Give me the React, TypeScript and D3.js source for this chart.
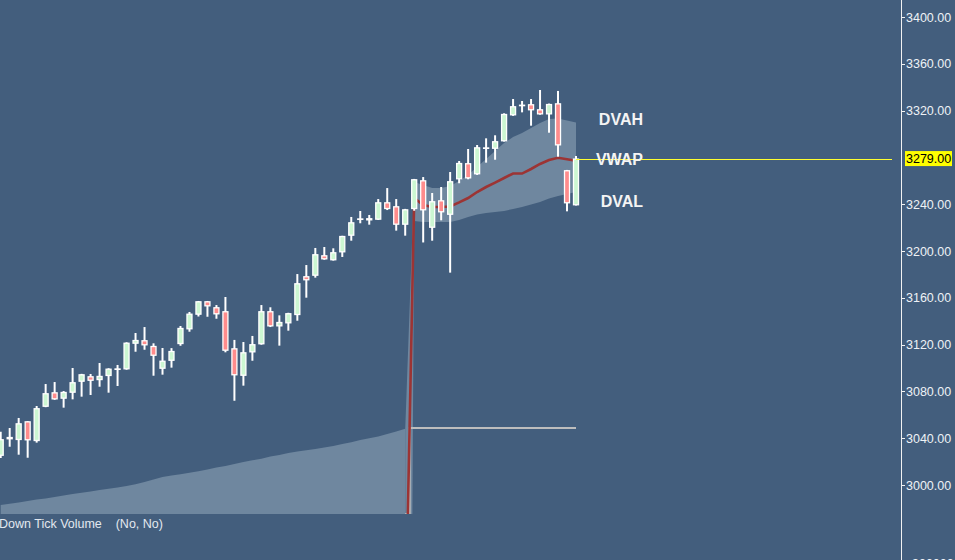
import React, { useEffect, useRef } from "react";
import * as d3 from "d3";

const W = 955;
const H = 560;

const BG = "#435e7d";
const SHADE = "#6f879f";
const UP = "#ccf7d2";
const DOWN = "#ff8c8c";
const FONT = "'Liberation Sans', Arial, sans-serif";

// candles, oldest first
const opens = [
  3025.0, 3041.0, 3038.5, 3054.4, 3037.6, 3066.9, 3079.2, 3073.8, 3078.9, 3088.3,
  3092.9, 3089.7, 3093.2, 3099.4, 3098.9, 3120.8, 3123.7, 3118.8, 3099.4, 3106.2,
  3120.5, 3133.1, 3145.6, 3157.0, 3151.9, 3148.5, 3116.8, 3093.4, 3113.4, 3120.3,
  3148.5, 3135.6, 3138.2, 3145.3, 3178.4, 3178.9, 3196.3, 3192.1, 3198.9, 3213.1,
  3227.6, 3228.0, 3226.8, 3241.6, 3238.2, 3222.5, 3235.9, 3260.4, 3219.9, 3243.3,
  3231.0, 3261.3, 3275.0, 3265.6, 3288.3, 3287.4, 3293.8, 3316.0, 3324.8, 3325.4,
  3321.1, 3316.8, 3326.2, 3269.0, 3239.1,
];
const highs = [
  3045.6, 3048.7, 3057.3, 3054.6, 3067.5, 3086.3, 3088.0, 3080.3, 3100.0, 3095.0,
  3094.9, 3104.3, 3099.8, 3102.6, 3122.0, 3129.9, 3135.0, 3121.1, 3117.1, 3117.0,
  3135.9, 3147.9, 3157.3, 3157.3, 3153.8, 3160.7, 3124.0, 3122.2, 3127.4, 3153.8,
  3151.9, 3145.0, 3147.2, 3180.3, 3188.0, 3202.6, 3203.4, 3202.3, 3213.0, 3229.1,
  3234.2, 3230.8, 3244.4, 3253.8, 3244.4, 3236.0, 3261.6, 3263.2, 3249.6, 3254.7,
  3267.5, 3276.9, 3287.2, 3290.6, 3296.3, 3298.9, 3317.7, 3329.9, 3328.2, 3329.9,
  3337.6, 3326.0, 3336.8, 3269.3, 3281.2,
];
const lows = [
  3023.1, 3032.7, 3025.9, 3023.3, 3036.2, 3066.5, 3072.8, 3066.1, 3073.2, 3075.5,
  3076.9, 3084.0, 3078.9, 3084.6, 3098.5, 3113.9, 3115.6, 3093.4, 3094.3, 3100.3,
  3119.0, 3131.0, 3144.0, 3143.8, 3142.1, 3113.4, 3072.0, 3084.9, 3106.2, 3119.9,
  3135.0, 3119.1, 3131.9, 3140.4, 3160.1, 3177.2, 3192.5, 3191.8, 3194.9, 3208.8,
  3223.7, 3222.5, 3226.5, 3235.0, 3217.4, 3213.1, 3234.4, 3207.3, 3208.8, 3226.2,
  3181.5, 3257.9, 3261.3, 3265.0, 3275.5, 3278.0, 3293.5, 3315.5, 3318.5, 3307.1,
  3316.5, 3301.1, 3280.6, 3233.9, 3238.8,
];
const closes = [
  3039.1, 3039.1, 3052.7, 3038.2, 3065.6, 3078.4, 3073.2, 3079.5, 3087.8, 3094.6,
  3089.1, 3093.2, 3099.4, 3099.6, 3121.6, 3123.9, 3119.4, 3110.5, 3106.2, 3114.5,
  3134.2, 3146.4, 3157.0, 3152.7, 3145.9, 3114.8, 3093.8, 3113.4, 3120.3, 3148.5,
  3135.6, 3139.3, 3146.8, 3172.4, 3175.0, 3197.2, 3192.9, 3198.9, 3212.8, 3224.5,
  3227.8, 3226.2, 3241.6, 3235.9, 3222.5, 3235.6, 3261.3, 3234.8, 3242.5, 3233.1,
  3259.6, 3275.2, 3262.1, 3288.6, 3288.5, 3293.8, 3317.1, 3323.7, 3325.0, 3320.3,
  3316.8, 3325.6, 3290.3, 3240.8, 3279.0,
];

// session VWAP and value-area bands, from bar 45 on
const sessionStart = 45;
const vwap = [
  2862, 3245.3, 3239.3, 3237.6, 3237.6, 3238.0, 3241.5, 3245.3, 3250.4, 3254.7,
  3258.5, 3262.4, 3266.2, 3266.2, 3270.1, 3274.4, 3277.8, 3279.7, 3278.4, 3277.2,
];
const dvah = [
  3047, 3259.0, 3256.4, 3253.8, 3253.8, 3255.6, 3259.8, 3265.0, 3271.8, 3278.6,
  3285.5, 3292.3, 3297.4, 3300.9, 3305.1, 3309.4, 3312.8, 3313.2, 3311.5, 3309.8,
];
const dval = [
  2000, 3225.6, 3224.8, 3224.8, 3224.8, 3224.8, 3226.5, 3229.1, 3231.2, 3232.5,
  3233.3, 3234.2, 3235.9, 3237.6, 3239.7, 3241.9, 3244.9, 3247.0, 3248.7, 3250.4,
];

// cumulative down tick volume (thousands)
const volPrev = [
  90, 103, 116, 130, 144, 156, 170, 185, 200, 213, 225, 240, 253, 266, 280, 297,
  320, 344, 370, 384, 398, 412, 428, 445, 464, 480, 500, 520, 537, 553, 574, 590,
  610, 626, 638, 650, 664, 680, 700, 717, 740, 757, 774, 800, 825, 852,
];
const volCur = [
  0, 860, 860, 860, 860, 860, 860, 860, 860, 860, 860, 860, 860, 860, 860, 860,
  860, 860, 860, 860,
];

const priceTicks = [3000, 3040, 3080, 3120, 3160, 3200, 3240, 3280, 3320, 3360, 3400];

const App: React.FC = () => {
  const svgRef = useRef<SVGSVGElement>(null);

  useEffect(() => {
    if (!svgRef.current) return;
    document.body.style.margin = "0";
    const svg = d3.select(svgRef.current);
    svg.selectAll("*").remove();

    const plotRight = 895;
    const plotBottom = 514;
    const axisX = 901;
    const bodyW = 5;

    const x = d3.scaleLinear().domain([0, opens.length - 1]).range([0.7, 576]);
    const y = d3.scaleLinear().domain([3000, 3400]).range([485, 17]);
    const yVol = d3.scaleLinear().domain([0, 1000]).range([plotBottom, 414]);

    svg.append("rect").attr("width", W).attr("height", H).attr("fill", BG);

    svg
      .append("defs")
      .append("clipPath")
      .attr("id", "plotClip")
      .append("rect")
      .attr("x", 0)
      .attr("y", 0)
      .attr("width", plotRight)
      .attr("height", plotBottom);

    const plot = svg.append("g").attr("clip-path", "url(#plotClip)");

    // volume area (previous session)
    const volArea = d3
      .area<number>()
      .x((_, i) => x(i))
      .y0(yVol(0))
      .y1((d) => yVol(d));
    plot.append("path").datum(volPrev).attr("d", volArea).attr("fill", SHADE);

    // value area band
    const band = dvah.map((hi, k) => ({ i: sessionStart + k, hi, lo: dval[k] }));
    const bandArea = d3
      .area<{ i: number; hi: number; lo: number }>()
      .x((d) => x(d.i))
      .y0((d) => y(d.lo))
      .y1((d) => y(d.hi));
    plot.append("path").datum(band).attr("d", bandArea).attr("fill", SHADE);

    // current session volume
    const volLine = d3
      .line<number>()
      .x((_, k) => x(sessionStart + k))
      .y((d) => yVol(d))
      .curve(d3.curveStep);
    plot
      .append("path")
      .datum(volCur)
      .attr("d", volLine)
      .attr("fill", "none")
      .attr("stroke", "#bdbdbd")
      .attr("stroke-width", 2);

    // vwap
    const vwapLine = d3
      .line<number>()
      .x((_, k) => x(sessionStart + k))
      .y((d) => y(d));
    plot
      .append("path")
      .datum(vwap)
      .attr("d", vwapLine)
      .attr("fill", "none")
      .attr("stroke", "#9c3434")
      .attr("stroke-width", 2.6);

    // candles
    const bars = opens.map((o, i) => ({ i, o, h: highs[i], l: lows[i], c: closes[i] }));
    const cg = plot.append("g");
    cg.selectAll("line")
      .data(bars)
      .join("line")
      .attr("x1", (d) => x(d.i))
      .attr("x2", (d) => x(d.i))
      .attr("y1", (d) => y(d.h))
      .attr("y2", (d) => y(d.l))
      .attr("stroke", "#ffffff")
      .attr("stroke-width", 2);
    cg.selectAll("rect")
      .data(bars)
      .join("rect")
      .attr("x", (d) => x(d.i) - bodyW / 2)
      .attr("y", (d) => y(Math.max(d.o, d.c)) + 0.5)
      .attr("width", bodyW)
      .attr("height", (d) => Math.max(0.4, Math.abs(y(d.o) - y(d.c)) - 1))
      .attr("fill", (d) => (d.c >= d.o ? UP : DOWN))
      .attr("stroke", "#ffffff")
      .attr("stroke-width", 1.3);

    // last price line
    const last = closes[closes.length - 1];
    svg
      .append("line")
      .attr("x1", x(closes.length - 1))
      .attr("x2", 892)
      .attr("y1", Math.round(y(last)) + 0.5)
      .attr("y2", Math.round(y(last)) + 0.5)
      .attr("stroke", "#ffff30")
      .attr("stroke-width", 1);

    // band labels
    const labels = [
      { text: "DVAH", v: dvah[dvah.length - 1], dy: -3 },
      { text: "VWAP", v: vwap[vwap.length - 1], dy: -1 },
      { text: "DVAL", v: dval[dval.length - 1], dy: 9 },
    ];
    svg
      .selectAll("text.band")
      .data(labels)
      .join("text")
      .attr("class", "band")
      .attr("x", 643)
      .attr("y", (d) => y(d.v) + d.dy)
      .attr("dy", "0.36em")
      .attr("text-anchor", "end")
      .attr("fill", "#f4f4f4")
      .style("font-family", FONT)
      .style("font-weight", "bold")
      .style("font-size", "16px")
      .text((d) => d.text);

    // price axis
    svg
      .append("line")
      .attr("x1", axisX + 0.5)
      .attr("x2", axisX + 0.5)
      .attr("y1", 0)
      .attr("y2", H)
      .attr("stroke", "#f2f2f2")
      .attr("stroke-width", 1);

    const ticks = priceTicks.filter((t) => Math.abs(y(t) - y(last)) > 10);
    const tg = svg.append("g");
    tg.selectAll("line")
      .data(ticks)
      .join("line")
      .attr("x1", axisX + 1)
      .attr("x2", axisX + 4)
      .attr("y1", (d) => Math.round(y(d)) + 0.5)
      .attr("y2", (d) => Math.round(y(d)) + 0.5)
      .attr("stroke", "#f2f2f2");
    tg.selectAll("text")
      .data(ticks)
      .join("text")
      .attr("x", axisX + 5)
      .attr("y", (d) => y(d))
      .attr("dy", "0.36em")
      .attr("fill", "#eef2f6")
      .style("font-family", FONT)
      .style("font-size", "12.5px")
      .text((d) => d3.format(".2f")(d));

    // last price marker
    svg
      .append("rect")
      .attr("x", axisX + 4)
      .attr("y", y(last) - 7.5)
      .attr("width", 47)
      .attr("height", 15)
      .attr("fill", "#ffff00");
    svg
      .append("text")
      .attr("x", axisX + 5)
      .attr("y", y(last))
      .attr("dy", "0.36em")
      .attr("fill", "#000")
      .style("font-family", FONT)
      .style("font-size", "12.5px")
      .text(d3.format(".2f")(last));

    // lower panel
    svg
      .append("text")
      .attr("x", -1)
      .attr("y", 527.5)
      .attr("fill", "#e2e8ef")
      .style("font-family", FONT)
      .style("font-size", "12.5px")
      .style("white-space", "pre")
      .text("Down Tick Volume    (No, No)");
    svg
      .append("text")
      .attr("x", 912)
      .attr("y", 568)
      .attr("fill", "#eef2f6")
      .style("font-family", FONT)
      .style("font-size", "12.5px")
      .text("3000000");
  }, []);

  return (
    <svg
      ref={svgRef}
      width={W}
      height={H}
      style={{ position: "absolute", left: 0, top: 0, display: "block" }}
    />
  );
};

export default App;
